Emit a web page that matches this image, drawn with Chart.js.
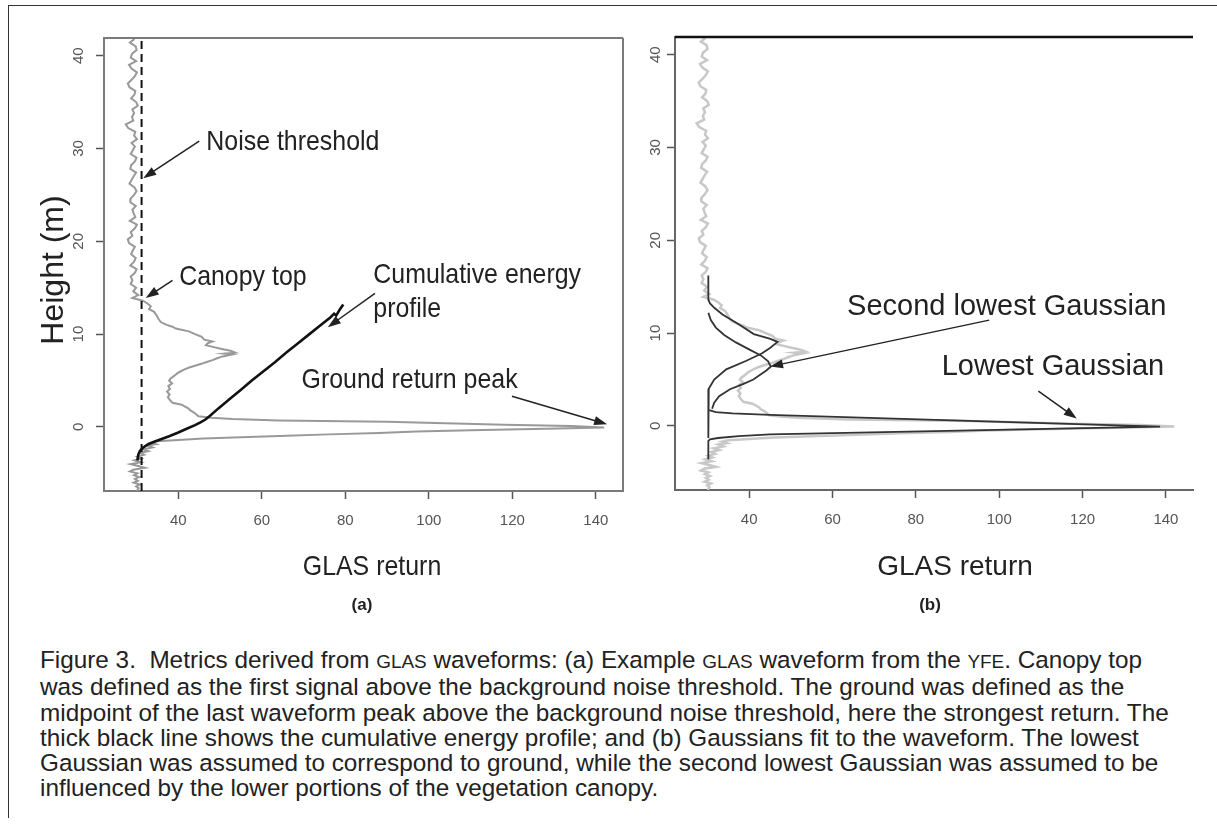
<!DOCTYPE html>
<html>
<head>
<meta charset="utf-8">
<script src="https://cdn.jsdelivr.net/npm/chart.js@4.4.1/dist/chart.umd.min.js"></script>
<style>
  body { margin: 0; background: #fff; width: 1217px; height: 826px; overflow: hidden; position: relative;
         font-family: "Liberation Sans", Arial, sans-serif; color: #222; }
  #frame { position: absolute; left: 8px; top: 5px; width: 1215px; height: 812px;
           border-left: 1.5px solid #333; border-top: 1.5px solid #333; }
  canvas { position: absolute; top: 0; }
  #chartA { left: 0; }
  #chartB { left: 640px; }
  .panel { position: absolute; top: 595px; font-weight: bold; font-size: 17px; transform: translateX(-50%); }
  #caption { position: absolute; left: 40px; top: 647px; font-size: 24.3px; line-height: 25.3px; white-space: nowrap; color: #222; }
  .sc { font-size: 0.78em; }
</style>
</head>
<body>
<div id="frame"></div>
<canvas id="chartA" width="640" height="600"></canvas>
<canvas id="chartB" width="577" height="600"></canvas>
<div class="panel" style="left:362px">(a)</div>
<div class="panel" style="left:930px">(b)</div>
<div id="caption">
  <div>Figure 3.&nbsp; Metrics derived from <span class="sc">GLAS</span> waveforms: (a) Example <span class="sc">GLAS</span> waveform from the <span class="sc">YFE</span>. Canopy top</div>
  <div>was defined as the first signal above the background noise threshold. The ground was defined as the</div>
  <div>midpoint of the last waveform peak above the background noise threshold, here the strongest return. The</div>
  <div>thick black line shows the cumulative energy profile; and (b) Gaussians fit to the waveform. The lowest</div>
  <div>Gaussian was assumed to correspond to ground, while the second lowest Gaussian was assumed to be</div>
  <div>influenced by the lower portions of the vegetation canopy.</div>
</div>
<script>
const FONT = '"Liberation Sans", Arial, sans-serif';

// axis ranges and tick labels
const X_MIN = 22.2, X_MAX = 146.5;
const Y_MIN = -6.9, Y_MAX = 41.9;
const X_TICKS = [40, 60, 80, 100, 120, 140];
const Y_TICKS = [0, 10, 20, 30, 40];

// GLAS waveform, [height (m), return]
const waveform = [
  [41.8, 29.5], [41.4, 28.4], [41.0, 29.8], [40.6, 30.0], [40.2, 28.9], [39.8, 28.6], [39.4, 29.9], [39.0, 28.2],
  [38.6, 28.8], [38.2, 30.1], [37.8, 29.6], [37.4, 28.8], [37.0, 27.9], [36.6, 28.3], [36.2, 29.7], [35.8, 29.5],
  [35.4, 28.7], [35.0, 29.9], [34.6, 30.3], [34.2, 29.0], [33.8, 29.4], [33.4, 28.9], [33.0, 29.2], [32.6, 27.4],
  [32.2, 28.0], [31.8, 29.7], [31.4, 29.4], [31.0, 30.1], [30.6, 28.8], [30.2, 29.6], [29.8, 29.1], [29.4, 28.6],
  [29.0, 30.0], [28.6, 29.6], [28.2, 28.7], [27.8, 28.5], [27.4, 29.9], [27.0, 29.3], [26.6, 28.8], [26.2, 28.3],
  [25.8, 29.5], [25.4, 30.0], [25.0, 29.4], [24.6, 28.6], [24.2, 28.5], [23.8, 29.8], [23.4, 29.0], [23.0, 29.3],
  [22.6, 29.7], [22.2, 28.4], [21.8, 30.1], [21.4, 29.6], [21.0, 28.6], [20.6, 29.0], [20.2, 27.9], [19.8, 28.2],
  [19.4, 29.6], [19.0, 29.1], [18.6, 28.7], [18.2, 29.8], [17.8, 29.4], [17.4, 28.5], [17.0, 30.0], [16.6, 29.6],
  [16.2, 28.6], [15.8, 29.0], [15.4, 28.6], [15.0, 29.9], [14.6, 29.2], [14.2, 30.4], [13.9, 29.0], [13.6, 31.5],
  [13.3, 32.6], [13.0, 33.4], [12.7, 33.0], [12.4, 34.2], [12.0, 34.8], [11.6, 35.3], [11.3, 35.8], [11.0, 37.2],
  [10.8, 38.6], [10.6, 39.4], [10.3, 42.5], [10.0, 44.0], [9.7, 45.6], [9.4, 46.2], [9.2, 48.2], [9.0, 47.0],
  [8.8, 46.6], [8.6, 48.5], [8.4, 50.4], [8.2, 52.5], [8.0, 53.6], [7.9, 51.0], [7.8, 52.8], [7.6, 50.6],
  [7.4, 49.3], [7.2, 48.2], [7.0, 46.8], [6.8, 45.5], [6.6, 44.0], [6.4, 42.6], [6.2, 41.5], [6.0, 40.6],
  [5.8, 39.8], [5.5, 39.0], [5.2, 38.1], [5.0, 37.8], [4.7, 38.5], [4.4, 37.6], [4.1, 38.0], [3.8, 37.3],
  [3.5, 37.9], [3.2, 37.5], [2.9, 38.0], [2.6, 38.6], [2.4, 40.8], [2.2, 41.6], [2.0, 42.4], [1.8, 42.8],
  [1.6, 43.6], [1.4, 44.2], [1.15, 44.8],
  [1.0, 48.0], [0.85, 53.0], [0.7, 64.0], [0.55, 90.0], [0.4, 104.0], [0.25, 118.0], [0.1, 134.0], [-0.05, 142.0],
  [-0.2, 128.0], [-0.35, 110.0], [-0.5, 97.0], [-0.65, 88.0], [-0.8, 76.0], [-0.95, 66.0], [-1.1, 55.0], [-1.25, 46.0],
  [-1.4, 40.0], [-1.55, 35.0],
  [-1.7, 33.5], [-1.85, 34.6], [-2.0, 32.6], [-2.2, 33.8], [-2.4, 31.5], [-2.6, 32.8], [-2.8, 30.9], [-3.0, 31.8],
  [-3.2, 30.2], [-3.4, 31.2], [-3.6, 29.5], [-3.8, 31.0], [-4.0, 28.6], [-4.2, 30.4], [-4.4, 32.0], [-4.6, 29.2],
  [-4.8, 28.4], [-5.0, 30.2], [-5.2, 29.4], [-5.4, 30.6], [-5.6, 29.6], [-5.8, 30.3], [-6.0, 29.3], [-6.2, 30.8],
  [-6.4, 29.9], [-6.6, 30.5], [-6.9, 30.0]
];

// cumulative energy profile (panel a)
const cumulative = [
  [-3.6, 30.2], [-3.0, 30.4], [-2.6, 30.8], [-2.2, 31.6], [-1.9, 32.6], [-1.6, 34.2], [-1.3, 36.0], [-1.0, 37.8],
  [-0.6, 40.0], [-0.2, 42.0], [0.2, 44.0], [0.5, 45.3], [0.8, 46.5], [1.2, 47.6], [2.0, 49.6], [3.0, 52.3],
  [4.0, 55.0], [5.0, 57.6], [6.0, 60.4], [7.0, 63.2], [8.0, 65.8], [9.0, 68.6], [10.0, 71.4], [11.0, 74.2],
  [11.8, 76.4], [12.2, 77.3], [12.0, 77.8], [12.6, 78.6], [13.2, 79.5]
];
const noiseThreshold = 31.2;

// fitted Gaussians (panel b)
const gaussUpper = [
  [16.2, 30.2], [13.6, 30.2], [13.2, 30.6], [12.7, 31.7], [12.0, 33.6], [11.0, 37.3], [9.9, 41.1], [9.4, 44.9],
  [9.06, 46.8], [8.4, 45.0], [7.8, 43.0], [7.0, 39.2], [6.1, 34.5], [5.0, 31.6], [4.0, 30.3], [3.5, 30.2], [-1.3, 30.2]
];
const gaussSecond = [
  [12.2, 30.2], [11.4, 30.8], [10.6, 32.0], [9.8, 34.0], [9.0, 36.8], [8.2, 40.2], [7.6, 42.8], [7.0, 44.5],
  [6.4, 45.2], [6.0, 44.2], [5.0, 41.0], [4.5, 38.5], [3.95, 35.4], [3.2, 32.8], [2.5, 31.6], [1.85, 31.1]
];
const gaussGround = [
  [1.7, 30.4], [1.5, 32.0], [1.35, 36.0], [1.2, 44.9], [-0.07, 138.6], [-0.9, 45.0], [-1.1, 37.5], [-1.3, 32.5],
  [-1.45, 30.6], [-1.6, 30.2], [-3.6, 30.2]
];

const pts = arr => arr.map(([h, r]) => ({x: r, y: h}));
const line = (data, color, width, extra) => Object.assign({
  data: pts(data), showLine: true, borderColor: color, borderWidth: width,
  pointRadius: 0, tension: 0, fill: false
}, extra || {});

// annotation layout for each panel (data coordinates)
const panelA = {
  font: 28, squeeze: 0.89, frame: '#7a7a7a', topColor: '#7a7a7a', rightEdge: true, yGap: 25.5,
  xTitle: [372, 575], yTitle: [63, 270],
  notes: [
    {lines: ['Noise threshold'], x: 46.7, y: 29.8},
    {lines: ['Canopy top'], x: 40.2, y: 15.3},
    {lines: ['Cumulative energy', 'profile'], x: 86.7, y: 15.5},
    {lines: ['Ground return peak'], x: 69.5, y: 4.2}
  ],
  arrows: [
    {from: [45.0, 30.8], to: [31.6, 26.8]},
    {from: [38.6, 15.8], to: [32.2, 13.9]},
    {from: [87.1, 14.4], to: [75.8, 10.75]},
    {from: [119.9, 3.3], to: [142.7, 0.28]}
  ]
};
const panelB = {
  font: 29, squeeze: 1, frame: '#666', topColor: '#111', rightEdge: false, yGap: 19,
  xTitle: [315, 575], yTitle: null,
  notes: [
    {lines: ['Second lowest Gaussian'], x: 63.5, y: 11.96},
    {lines: ['Lowest Gaussian'], x: 86.2, y: 5.49}
  ],
  arrows: [
    {from: [97.6, 11.4], to: [45.0, 6.4]},
    {from: [109.4, 3.75], to: [118.6, 0.8]}
  ]
};

function say(ctx, text, x, y, size, squeeze, align, rot) {
  ctx.save();
  ctx.translate(x, y);
  if (rot) ctx.rotate(rot);
  ctx.scale(squeeze, 1);
  ctx.font = size + 'px ' + FONT;
  ctx.textAlign = align;
  ctx.textBaseline = 'alphabetic';
  ctx.fillText(text, 0, 0);
  ctx.restore();
}

function notes(p) {
  return {
    id: 'notes',
    afterDraw(chart) {
      const {ctx, chartArea: a, scales: {x, y}} = chart;
      ctx.save();
      // top / right edges of the box
      ctx.strokeStyle = p.topColor;
      ctx.lineWidth = p.rightEdge ? 2 : 2.5;
      ctx.beginPath();
      ctx.moveTo(a.left, a.top);
      ctx.lineTo(a.right, a.top);
      ctx.stroke();
      if (p.rightEdge) {
        ctx.strokeStyle = p.frame;
        ctx.beginPath();
        ctx.moveTo(a.right, a.top);
        ctx.lineTo(a.right, a.bottom);
        ctx.stroke();
      }
      // y tick labels, rotated
      ctx.fillStyle = '#555';
      Y_TICKS.forEach(v => {
        ctx.save();
        ctx.translate(a.left - p.yGap, y.getPixelForValue(v));
        ctx.rotate(-Math.PI / 2);
        ctx.font = '15px ' + FONT;
        ctx.textAlign = 'center';
        ctx.textBaseline = 'middle';
        ctx.fillText(String(v), 0, 0);
        ctx.restore();
      });
      // axis titles
      ctx.fillStyle = '#222';
      say(ctx, 'GLAS return', p.xTitle[0], p.xTitle[1], 28, p.squeeze, 'center');
      if (p.yTitle) say(ctx, 'Height (m)', p.yTitle[0], p.yTitle[1], 32, 1, 'center', -Math.PI / 2);
      // annotation text
      p.notes.forEach(n => {
        n.lines.forEach((t, i) => {
          say(ctx, t, x.getPixelForValue(n.x), y.getPixelForValue(n.y) + i * 34, p.font, p.squeeze, 'left');
        });
      });
      // arrows
      ctx.strokeStyle = '#222';
      ctx.fillStyle = '#222';
      ctx.lineWidth = 1.5;
      p.arrows.forEach(ar => {
        const x0 = x.getPixelForValue(ar.from[0]), y0 = y.getPixelForValue(ar.from[1]);
        const x1 = x.getPixelForValue(ar.to[0]), y1 = y.getPixelForValue(ar.to[1]);
        const ang = Math.atan2(y1 - y0, x1 - x0);
        ctx.beginPath();
        ctx.moveTo(x0, y0);
        ctx.lineTo(x1 - 8 * Math.cos(ang), y1 - 8 * Math.sin(ang));
        ctx.stroke();
        ctx.beginPath();
        ctx.moveTo(x1, y1);
        ctx.lineTo(x1 - 13 * Math.cos(ang) + 4.5 * Math.sin(ang), y1 - 13 * Math.sin(ang) - 4.5 * Math.cos(ang));
        ctx.lineTo(x1 - 13 * Math.cos(ang) - 4.5 * Math.sin(ang), y1 - 13 * Math.sin(ang) + 4.5 * Math.cos(ang));
        ctx.closePath();
        ctx.fill();
      });
      ctx.restore();
    }
  };
}

function scales(frame) {
  const grid = {drawOnChartArea: false, tickLength: 8, tickColor: '#555', tickWidth: 1.5};
  const border = {display: true, color: frame, width: 2};
  return {
    x: {
      type: 'linear', min: X_MIN, max: X_MAX, grid, border,
      afterBuildTicks: s => { s.ticks = X_TICKS.map(v => ({value: v})); },
      ticks: {color: '#555', padding: 13, maxRotation: 0, autoSkip: false, font: {family: FONT, size: 15}}
    },
    y: {
      type: 'linear', min: Y_MIN, max: Y_MAX, grid, border,
      afterBuildTicks: s => { s.ticks = Y_TICKS.map(v => ({value: v})); },
      ticks: {display: false}
    }
  };
}

const common = {
  responsive: false,
  animation: false,
  events: [],
  plugins: {legend: {display: false}, tooltip: {enabled: false}}
};

new Chart(document.getElementById('chartA'), {
  type: 'scatter',
  data: {
    datasets: [
      line(cumulative, '#111', 2.6),
      line([[Y_MIN, noiseThreshold], [Y_MAX, noiseThreshold]], '#111', 2, {borderDash: [8, 5]}),
      line(waveform, '#999', 2)
    ]
  },
  options: Object.assign({}, common, {
    layout: {padding: {left: 96, top: 38, right: 17, bottom: 57}},
    scales: scales(panelA.frame)
  }),
  plugins: [notes(panelA)]
});

new Chart(document.getElementById('chartB'), {
  type: 'scatter',
  data: {
    datasets: [
      line(gaussGround, '#333', 1.8),
      line(gaussSecond, '#333', 1.8),
      line(gaussUpper, '#333', 1.8),
      line(waveform, '#c8c8c8', 2.5)
    ]
  },
  options: Object.assign({}, common, {
    layout: {padding: {left: 27, top: 37, right: 24, bottom: 58}},
    scales: scales(panelB.frame)
  }),
  plugins: [notes(panelB)]
});
</script>
</body>
</html>
